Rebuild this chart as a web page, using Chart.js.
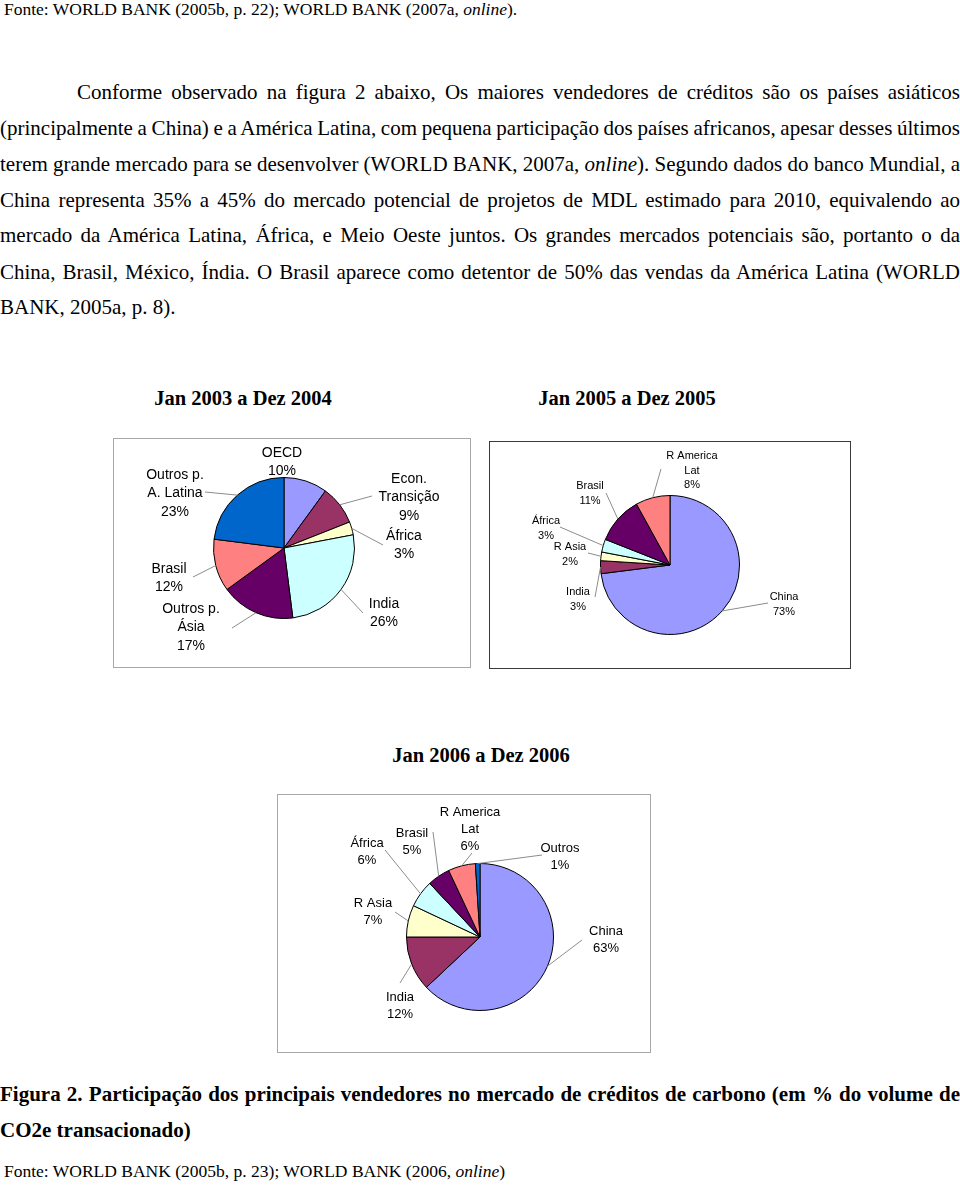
<!DOCTYPE html>
<html><head><meta charset="utf-8">
<script src="https://cdn.jsdelivr.net/npm/chart.js@4/dist/chart.umd.min.js"></script>
<style>
html,body{margin:0;padding:0;background:#fff}
body{width:960px;height:1185px;position:relative;overflow:hidden;font-family:"Liberation Serif","Times New Roman",serif;color:#000}
.t{position:absolute;white-space:nowrap;line-height:1}
.body{font-size:21px}
.fonte{font-size:17.5px}
.cap{font-size:21px;font-weight:bold}
.ttl{font-size:20.5px;font-weight:bold;transform:translateX(-50%)}
.box{position:absolute;box-sizing:border-box;background:#fff}
.box canvas{position:absolute;left:0;top:0}
</style></head><body>

<div class="t fonte" style="left:4px;top:1px">Fonte: WORLD BANK (2005b, p. 22); WORLD BANK (2007a, <i>online</i>).</div>

<div class="t body" data-w="883" style="left:77px;top:82px">Conforme observado na figura 2 abaixo, Os maiores vendedores de créditos são os países asiáticos</div>
<div class="t body" data-w="960" style="left:0;top:118px">(principalmente a China) e a América Latina, com pequena participação dos países africanos, apesar desses últimos</div>
<div class="t body" data-w="960" style="left:0;top:154px">terem grande mercado para se desenvolver (WORLD BANK, 2007a, <i>online</i>). Segundo dados do banco Mundial, a</div>
<div class="t body" data-w="960" style="left:0;top:190px">China representa 35% a 45% do mercado potencial de projetos de MDL estimado para 2010, equivalendo ao</div>
<div class="t body" data-w="960" style="left:0;top:225px">mercado da América Latina, África, e Meio Oeste juntos. Os grandes mercados potenciais são, portanto o da</div>
<div class="t body" data-w="960" style="left:0;top:262px">China, Brasil, México, Índia. O Brasil aparece como detentor de 50% das vendas da América Latina (WORLD</div>
<div class="t body" style="left:0;top:297px">BANK, 2005a, p. 8).</div>

<div class="t ttl" style="left:243px;top:388px">Jan 2003 a Dez 2004</div>
<div class="t ttl" style="left:627px;top:388px">Jan 2005 a Dez 2005</div>
<div class="t ttl" style="left:481px;top:745px">Jan 2006 a Dez 2006</div>

<div class="box" style="left:113px;top:438px;width:358px;height:230px;border:1px solid #a8a8a8"><canvas id="c1" width="356" height="228"></canvas></div>
<div class="box" style="left:489px;top:441px;width:362px;height:228px;border:1px solid #3a3a3a"><canvas id="c2" width="360" height="226"></canvas></div>
<div class="box" style="left:277px;top:794px;width:374px;height:259px;border:1px solid #a8a8a8"><canvas id="c3" width="372" height="257"></canvas></div>

<div class="t cap" data-w="960" style="left:0;top:1084px">Figura 2. Participação dos principais vendedores no mercado de créditos de carbono (em % do volume de</div>
<div class="t cap" style="left:0;top:1120px">CO2e transacionado)</div>
<div class="t fonte" style="left:4px;top:1163px">Fonte: WORLD BANK (2005b, p. 23); WORLD BANK (2006, <i>online</i>)</div>

<script>
// ---- data ----
const labels2004 = ['OECD','Econ. Transição','África','India','Outros p. Ásia','Brasil','Outros p. A. Latina'];
const values2004 = [10, 9, 3, 26, 17, 12, 23];
const labels2005 = ['China','India','R Asia','África','Brasil','R America Lat'];
const values2005 = [73, 3, 2, 3, 11, 8];
const labels2006 = ['China','India','R Asia','África','Brasil','R America Lat','Outros'];
const values2006 = [63, 12, 7, 6, 5, 6, 1];

// ---- styles ----
const palette = ['#9999FF','#993366','#FFFFCC','#CCFFFF','#660066','#FF8080','#0066CC'];

// label text layout (line breaks, offsets from pie centre, leader end)
const layout2004 = [
  {lines:['OECD'], dx:-2, dy:-95},
  {lines:['Econ.','Transição'], dx:125, dy:-69, leader:[88,-52]},
  {lines:['África'], dx:120, dy:-12, leader:[99,-3]},
  {lines:['India'], dx:100, dy:56, leader:[79,65]},
  {lines:['Outros p.','Ásia'], dx:-93, dy:61, leader:[-52,80]},
  {lines:['Brasil'], dx:-115, dy:21, leader:[-91,29]},
  {lines:['Outros p.','A. Latina'], dx:-109, dy:-73, leader:[-79,-56]}
];
const layout2005 = [
  {lines:['China'], dx:114, dy:32, leader:[98,38]},
  {lines:['India'], dx:-92, dy:27, leader:[-75,32]},
  {lines:['R Asia'], dx:-100, dy:-18, leader:[-82,-12]},
  {lines:['África'], dx:-124, dy:-44, leader:[-110,-38]},
  {lines:['Brasil'], dx:-80, dy:-79, leader:[-64,-72]},
  {lines:['R America','Lat'], dx:22, dy:-109, leader:[-9,-96]}
];
const layout2006 = [
  {lines:['China'], dx:126, dy:-6, leader:[102,3]},
  {lines:['India'], dx:-80, dy:60, leader:[-80,46]},
  {lines:['R Asia'], dx:-107, dy:-34, leader:[-85,-25]},
  {lines:['África'], dx:-113, dy:-94, leader:[-95,-87]},
  {lines:['Brasil'], dx:-68, dy:-104, leader:[-47,-105]},
  {lines:['R America','Lat'], dx:-10, dy:-125, leader:[-8,-84]},
  {lines:['Outros'], dx:80, dy:-89, leader:[62,-82]}
];

// justify text lines
document.querySelectorAll('[data-w]').forEach(el=>{
  const target = +el.dataset.w;
  const nat = el.getBoundingClientRect().width;
  const spaces = (el.textContent.match(/ /g)||[]).length;
  if (spaces) el.style.wordSpacing = ((target - nat)/spaces) + 'px';
});

const pieLabels = {
  id:'pieLabels',
  afterDatasetsDraw(chart, args, opts){
    const ctx = chart.ctx, meta = chart.getDatasetMeta(0), ds = chart.data.datasets[0];
    ctx.save();
    meta.data.forEach((arc,i)=>{
      const L = opts.layout[i];
      const p = arc.getProps(['x','y','outerRadius','startAngle','endAngle'], true);
      const mid = (p.startAngle + p.endAngle)/2;
      if (L.leader){
        ctx.strokeStyle = '#8c8c8c'; ctx.lineWidth = 1;
        ctx.beginPath();
        ctx.moveTo(p.x + Math.cos(mid)*p.outerRadius, p.y + Math.sin(mid)*p.outerRadius);
        ctx.lineTo(p.x + L.leader[0], p.y + L.leader[1]);
        ctx.stroke();
      }
      ctx.font = opts.font; ctx.fillStyle = '#000';
      ctx.textAlign = 'center'; ctx.textBaseline = 'middle';
      const lines = L.lines.concat([ds.data[i] + '%']);
      lines.forEach((s,k)=> ctx.fillText(s, p.x + L.dx, p.y + L.dy + k*opts.gap));
    });
    ctx.restore();
  }
};

function makePie(id, labels, values, layout, pad, font, gap){
  new Chart(document.getElementById(id), {
    type:'pie',
    data:{labels, datasets:[{data:values, backgroundColor:palette.slice(0, values.length), borderColor:'#000', borderWidth:1}]},
    options:{
      responsive:false, animation:false, events:[],
      layout:{padding:pad},
      plugins:{legend:{display:false}, tooltip:{enabled:false}, pieLabels:{layout, font, gap}}
    },
    plugins:[pieLabels]
  });
}
makePie('c1', labels2004, values2004, layout2004, {left:99,right:115,top:38,bottom:48}, '14px "Liberation Sans", Arial, sans-serif', 18.5);
makePie('c2', labels2005, values2005, layout2005, {left:110,right:110,top:53,bottom:33}, '11px "Liberation Sans", Arial, sans-serif', 14.5);
makePie('c3', labels2006, values2006, layout2006, {left:128,right:96,top:68,bottom:41}, '13px "Liberation Sans", Arial, sans-serif', 17);
</script>
</body></html>
